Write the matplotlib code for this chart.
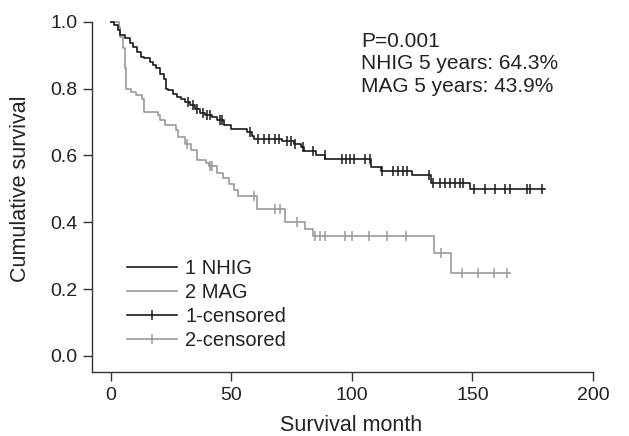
import numpy as np
import matplotlib
matplotlib.use("Agg")
import matplotlib.pyplot as plt
from matplotlib.lines import Line2D

plt.rcParams['font.family'] = ['Liberation Sans', 'DejaVu Sans']

# NHIG (group 1) Kaplan-Meier steps: event times and survival after each step
nhig_times = [0, 1.5, 3, 4, 6, 8, 9.5, 11, 12.5, 14, 16.5, 17.5, 19, 20.5, 22, 22.8,
              24, 26, 27.7, 29, 31, 33, 35, 37, 39, 42, 44, 47, 50, 56.7, 58.8, 59.5,
              71, 76, 79, 80, 85, 89, 108, 112, 125, 133, 149]
nhig_surv = [1.0, 0.99, 0.975, 0.96, 0.95, 0.935, 0.925, 0.91, 0.895, 0.89, 0.88, 0.87,
             0.86, 0.845, 0.83, 0.80, 0.795, 0.785, 0.775, 0.77, 0.76, 0.75, 0.738,
             0.726, 0.72, 0.715, 0.705, 0.69, 0.678, 0.671, 0.657, 0.648,
             0.642, 0.633, 0.624, 0.612, 0.602, 0.59, 0.565, 0.552, 0.54, 0.518, 0.50]
nhig_end = 180
nhig_censored = [32.2, 34.3, 35.7, 38.4, 39.8, 41.2, 45.4, 46.1, 57.8, 61.3, 63.4, 65.5,
                 68.3, 69.7, 73.1, 74.7, 76.5, 79.9, 84.1, 88.9, 95.8, 97.6, 99.2,
                 100.9, 105.4, 107.5, 112.4, 117.2, 119.3, 121.4, 122.8, 132.2, 133.8,
                 136.6, 138.7, 140.7, 142.8, 144.9, 146.3, 150.5, 155.3, 159.5, 163.6,
                 165.7, 172.7, 174.0, 178.9]

# MAG (group 2)
mag_times = [0, 3.5, 4, 5, 5.9, 6.6, 8.5, 10.5, 13.2, 14, 19.5, 20.5, 22.5, 27, 28, 31,
             33.5, 36, 39.5, 41, 44, 46.7, 49, 51, 53, 60.8, 72.3, 80.6, 84, 134, 141]
mag_surv = [1.0, 0.985, 0.955, 0.92, 0.86, 0.80, 0.79, 0.78, 0.77, 0.73, 0.72, 0.705,
            0.69, 0.675, 0.655, 0.635, 0.615, 0.585, 0.578, 0.567, 0.547, 0.532, 0.515,
            0.497, 0.478, 0.44, 0.402, 0.38, 0.36, 0.307, 0.247]
mag_end = 165.5
mag_censored = [31.5, 41.2, 41.9, 59.5, 68.3, 70.3, 77.4, 84.8, 86.9, 89.0, 97.3, 100.0,
                107.0, 114.5, 122.5, 137.0, 145.6, 152.5, 159.0, 164.3]

legend_labels = ["1 NHIG", "2 MAG", "1-censored", "2-censored"]
annot_lines = ["P=0.001", "NHIG 5 years: 64.3%", "MAG 5 years: 43.9%"]

BLACK = "#1a1a1a"
GRAY = "#9a9a9a"
TXT = '#222222'
FS_TICK = 14
FS_LABEL = 15.5
FS_LEG = 14.5
FS_ANN = 15

fig = plt.figure(figsize=(6.29, 4.36), dpi=100)
ax = fig.add_axes([92/629, 1-372/436, (593-92)/629, (372-21.7)/436])


def km_at(times, surv, t):
    idx = np.searchsorted(np.asarray(times), np.asarray(t), side='right') - 1
    return np.asarray(surv)[idx]


def draw(times, surv, end, cens, color):
    tx = list(times) + [end]
    sy = list(surv) + [surv[-1]]
    ax.step(tx, sy, where='post', color=color, lw=1.2, clip_on=False, zorder=3)
    cy = km_at(times, surv, cens)
    ax.plot(cens, cy, ls='none', marker='|', ms=7, mew=1.1, color=color,
            clip_on=False, zorder=4)


draw(mag_times, mag_surv, mag_end, mag_censored, GRAY)
draw(nhig_times, nhig_surv, nhig_end, nhig_censored, BLACK)

ax.set_xlim(-7.7, 200)
ax.set_ylim(-0.048, 1.0)
ax.set_xticks([0, 50, 100, 150, 200])
ax.set_yticks([0.0, 0.2, 0.4, 0.6, 0.8, 1.0])
ax.set_yticklabels(["0.0", "0.2", "0.4", "0.6", "0.8", "1.0"])
for s in ['top', 'right']:
    ax.spines[s].set_visible(False)
for s in ['left', 'bottom']:
    ax.spines[s].set_color('#333333')
    ax.spines[s].set_linewidth(1.0)
ax.tick_params(direction='out', length=6.5, width=1.0, color='#333333',
               labelsize=FS_TICK, labelcolor=TXT, pad=4)
ax.set_xlabel("Survival month", fontsize=FS_LABEL, color=TXT)
ax.set_ylabel("Cumulative survival", fontsize=FS_LABEL, color=TXT)
ax.xaxis.set_label_coords((351.5-92)/501, -(425-372)/350.3)
ax.yaxis.set_label_coords(-(92-21)/501, (372-189)/350.3)
ax.xaxis.label.set_va('center')
ax.yaxis.label.set_va('center')

handles = [
    Line2D([], [], color=BLACK, lw=1.2),
    Line2D([], [], color=GRAY, lw=1.2),
    Line2D([], [], color=BLACK, lw=1.2, marker='|', ms=7, mew=1.1),
    Line2D([], [], color=GRAY, lw=1.2, marker='|', ms=7, mew=1.1),
]
leg = ax.legend(handles, legend_labels, loc='upper left',
                bbox_to_anchor=((127-92)/501, (372-259)/350.3),
                frameon=False, fontsize=FS_LEG, handlelength=2.5, handletextpad=0.4,
                labelspacing=0.25, borderaxespad=0, borderpad=0, numpoints=1)
for t in leg.get_texts():
    t.set_color(TXT)

ax.text(104, 0.97, "\n".join(annot_lines), fontsize=FS_ANN, color=TXT,
        va='top', ha='left', linespacing=1.24)

fig.savefig("out.png", dpi=100)
